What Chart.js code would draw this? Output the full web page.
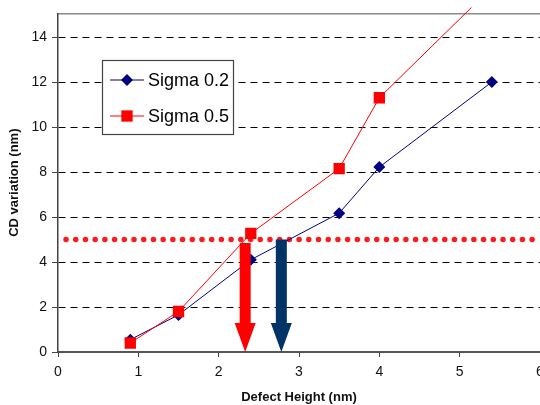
<!DOCTYPE html>
<html>
<head>
<meta charset="utf-8">
<script src="https://cdn.jsdelivr.net/npm/chart.js@4"></script>
<style>
html,body{margin:0;padding:0;background:#fff;overflow:hidden;width:540px;height:405px;}
#wrap{position:absolute;left:0;top:0;width:560px;height:405px;}
</style>
</head>
<body>
<div id="wrap"><canvas id="c" width="560" height="405"></canvas></div>
<script>
// ---- data ----
const seriesNames = ['Sigma 0.2', 'Sigma 0.5'];
const sigma02X = [0.9, 1.5, 2.4, 3.5, 4.0, 5.4];
const sigma02Y = [0.55, 1.65, 4.1, 6.17, 8.22, 12.0];
const sigma05X = [0.9, 1.5, 2.4, 3.5, 4.0, 5.4];
const sigma05Y = [0.4, 1.8, 5.27, 8.15, 11.3, 16.2];
const thresholdX = [0.1, 6];
const thresholdY = [5, 5];
const arrowX = [2.33, 2.78];
const arrowTop = [4.85, 5.0];
const arrowColors = ['#FF0000', '#003366'];
const xTicks = [0, 1, 2, 3, 4, 5, 6];
const yTicks = [0, 2, 4, 6, 8, 10, 12, 14];

const pts = (xs, ys) => xs.map((x, i) => ({x: x, y: ys[i]}));

const FONT = "'Liberation Sans', Arial, sans-serif";

const arrowPlugin = {
  id: 'arrows',
  afterDatasetsDraw(chart) {
    const {ctx, scales: {x, y}} = chart;
    ctx.save();
    arrowX.forEach((ax, i) => {
      const cx = x.getPixelForValue(ax);
      const top = y.getPixelForValue(arrowTop[i]);
      const tip = y.getPixelForValue(0);
      const shaftHalf = 5.5, headHalf = 10.5, headLen = 29;
      ctx.fillStyle = arrowColors[i];
      ctx.beginPath();
      ctx.moveTo(cx - shaftHalf, top);
      ctx.lineTo(cx + shaftHalf, top);
      ctx.lineTo(cx + shaftHalf, tip - headLen);
      ctx.lineTo(cx + headHalf, tip - headLen);
      ctx.lineTo(cx, tip);
      ctx.lineTo(cx - headHalf, tip - headLen);
      ctx.lineTo(cx - shaftHalf, tip - headLen);
      ctx.closePath();
      ctx.fill();
    });
    ctx.restore();
  }
};

const legendPlugin = {
  id: 'boxLegend',
  afterDraw(chart) {
    const {ctx} = chart;
    const bx = 102.5, by = 60.5, bw = 131, bh = 74;
    ctx.save();
    ctx.setLineDash([]);
    ctx.fillStyle = '#fff';
    ctx.fillRect(bx, by, bw, bh);
    ctx.strokeStyle = '#444';
    ctx.lineWidth = 1.2;
    ctx.strokeRect(bx, by, bw, bh);
    const rows = [80, 116];
    [0, 1].forEach(i => {
      const ds = chart.data.datasets[i];
      const yy = rows[i];
      ctx.strokeStyle = ds.borderColor;
      ctx.lineWidth = 1;
      ctx.beginPath();
      ctx.moveTo(110, yy);
      ctx.lineTo(144, yy);
      ctx.stroke();
      ctx.fillStyle = ds.pointBackgroundColor;
      ctx.beginPath();
      if (ds.pointStyle === 'rectRot') {
        const r = ds.pointRadius;
        ctx.moveTo(127, yy - r); ctx.lineTo(127 + r, yy); ctx.lineTo(127, yy + r); ctx.lineTo(127 - r, yy);
      } else {
        const s = ds.pointRadius * Math.SQRT1_2;
        ctx.rect(127 - s, yy - s, 2 * s, 2 * s);
      }
      ctx.closePath();
      ctx.fill();
      ctx.fillStyle = '#000';
      ctx.font = '18px ' + FONT;
      ctx.textBaseline = 'middle';
      ctx.textAlign = 'left';
      ctx.fillText(seriesNames[i], 148, yy + 1);
    });
    ctx.restore();
  }
};

new Chart(document.getElementById('c'), {
  type: 'line',
  data: {
    datasets: [
      {
        label: seriesNames[0],
        data: pts(sigma02X, sigma02Y),
        borderColor: '#000080',
        backgroundColor: '#000080',
        pointBackgroundColor: '#000080',
        pointBorderColor: '#000080',
        pointStyle: 'rectRot',
        pointRadius: 6,
        pointBorderWidth: 0,
        borderWidth: 1,
        tension: 0,
        order: 2
      },
      {
        label: seriesNames[1],
        data: pts(sigma05X, sigma05Y),
        borderColor: '#FF0000',
        backgroundColor: '#FF0000',
        pointBackgroundColor: '#FF0000',
        pointBorderColor: '#FF0000',
        pointStyle: 'rect',
        pointRadius: 8,
        pointBorderWidth: 0,
        borderWidth: 1,
        tension: 0,
        clip: {left: 0, top: 6, right: 0, bottom: 0},
        order: 1
      },
      {
        label: 'threshold',
        data: pts(thresholdX, thresholdY),
        borderColor: '#FF1A1A',
        borderWidth: 5.5,
        borderDash: [0.01, 9.7],
        borderCapStyle: 'round',
        pointRadius: 0,
        tension: 0,
        clip: 10,
        order: 3
      }
    ]
  },
  options: {
    responsive: false,
    animation: false,
    devicePixelRatio: 1,
    layout: {padding: {left: 0, top: 13, right: 20, bottom: 0}},
    plugins: {legend: {display: false}, tooltip: {enabled: false}},
    scales: {
      x: {
        type: 'linear',
        min: 0, max: 6,
        afterFit: s => { s.height = 53; },
        afterBuildTicks: s => { s.ticks = xTicks.map(v => ({value: v})); },
        border: {display: true, color: '#555', width: 2},
        grid: {drawOnChartArea: false, drawTicks: true, tickLength: 5, tickColor: '#444', tickWidth: 1},
        ticks: {color: '#111', font: {family: FONT, size: 14}, padding: 7, maxRotation: 0},
        title: {display: true, text: 'Defect Height (nm)', color: '#111',
                font: {family: FONT, size: 13, weight: 'bold'}, padding: {top: 0, bottom: 0}}
      },
      x2: {
        type: 'linear',
        position: 'top',
        min: 0, max: 6,
        afterFit: s => { s.height = 0; },
        border: {display: true, color: '#8a8a8a', width: 1.5},
        grid: {display: false, drawTicks: false},
        ticks: {display: false}
      },
      y: {
        type: 'linear',
        min: 0, max: 15.05,
        afterFit: s => { s.width = 58; },
        afterBuildTicks: s => { s.ticks = yTicks.map(v => ({value: v})); },
        border: {display: true, color: '#444', width: 1.5, dash: [7, 5]},
        grid: {
          color: c => (c.tick && c.tick.value === 0) ? 'rgba(0,0,0,0)' : '#000',
          lineWidth: 1,
          tickBorderDash: [],
          drawTicks: true,
          tickLength: 6,
          tickColor: '#444',
          tickWidth: 1
        },
        ticks: {color: '#111', font: {family: FONT, size: 14}, padding: 5},
        title: {display: true, text: 'CD variation (nm)', color: '#111',
                font: {family: FONT, size: 13, weight: 'bold'}, padding: {top: 7, bottom: 0}}
      }
    }
  },
  plugins: [arrowPlugin, legendPlugin]
});
</script>
</body>
</html>
